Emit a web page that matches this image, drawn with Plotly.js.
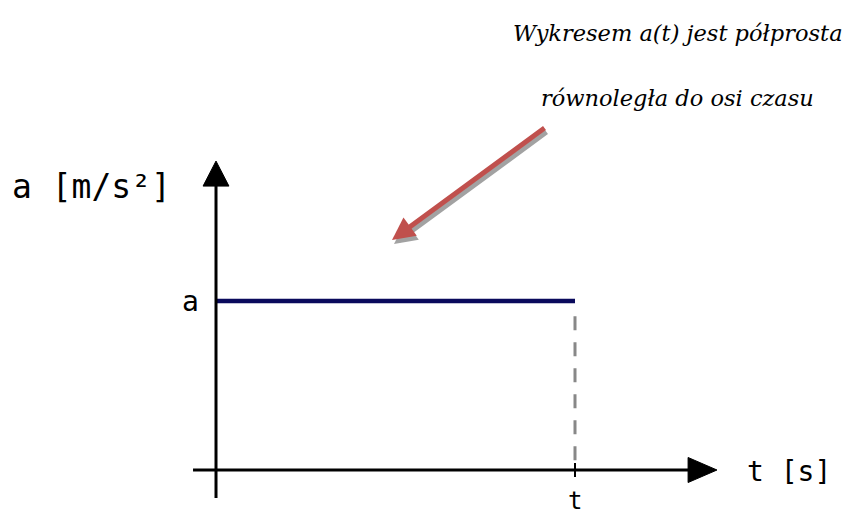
<!DOCTYPE html>
<html>
<head>
<meta charset="utf-8">
<script src="https://cdn.plot.ly/plotly-3.0.1.min.js"></script>
<style>html,body{margin:0;padding:0;background:#fff;}#chart{width:867px;height:516px;}</style>
</head>
<body>
<div id="chart"></div>
<script>
// Data
const tValues = [0, 1];          // time from 0 to t
const aValues = [1, 1];          // constant acceleration a
const xTickLabels = ['t'];
const yTickLabels = ['a'];
const xAxisTitle = 't [s]';
const yAxisTitle = 'a [m/s²]';
const noteLine1 = 'Wykresem a(t) jest półprosta';
const noteLine2 = 'równoległa do osi czasu';

const tEnd = tValues[tValues.length - 1];
const aLevel = aValues[0];

const traces = [
  { x: [tEnd, tEnd], y: [aLevel - 0.09, 0], mode: 'lines',
    line: { color: '#888888', width: 3, dash: '14px,12px' }, hoverinfo: 'skip' },
  { x: tValues, y: aValues, mode: 'lines',
    line: { color: '#0a0a5c', width: 4.5 }, hoverinfo: 'skip' }
];

const mono = 'DejaVu Sans Mono';
const layout = {
  width: 867, height: 516,
  margin: { l: 0, r: 0, t: 0, b: 0 },
  paper_bgcolor: '#ffffff', plot_bgcolor: '#ffffff',
  showlegend: false,
  xaxis: { range: [-0.6017, 1.8134], visible: false, fixedrange: true },
  yaxis: { range: [-0.2722, 2.7811], visible: false, fixedrange: true },
  shapes: [
    // y axis
    { type: 'line', xref: 'x', yref: 'y', x0: 0, x1: 0, y0: -0.166, y1: 1.70, line: { color: '#000', width: 3 } },
    { type: 'path', xref: 'x', yref: 'y', path: 'M -0.036 1.680 L 0.036 1.680 L 0 1.828 Z', fillcolor: '#000', line: { color: '#000', width: 1 } },
    // x axis
    { type: 'line', xref: 'x', yref: 'y', x0: -0.064, x1: 1.32, y0: 0, y1: 0, line: { color: '#000', width: 3 } },
    { type: 'path', xref: 'x', yref: 'y', path: 'M 1.315 -0.074 L 1.315 0.074 L 1.3955 0 Z', fillcolor: '#000', line: { color: '#000', width: 1 } },
    // tick at t
    { type: 'line', xref: 'x', yref: 'y', x0: tEnd, x1: tEnd, y0: -0.041, y1: 0.041, line: { color: '#000', width: 2 } }
  ],
  annotations: [
    { x: -0.07, y: aLevel, xref: 'x', yref: 'y', text: yTickLabels[0], showarrow: false, xanchor: 'center', yanchor: 'middle',
      font: { family: mono, size: 28, color: '#000' } },
    { x: tEnd, y: 1 - 501 / 516, xref: 'x', yref: 'paper', text: xTickLabels[0], showarrow: false, xanchor: 'center', yanchor: 'middle',
      font: { family: mono, size: 24, color: '#000' } },
    { x: 1.4735, y: -0.01, xref: 'x', yref: 'y', text: xAxisTitle, showarrow: false, xanchor: 'left', yanchor: 'middle',
      font: { family: mono, size: 28, color: '#000' } },
    { x: 0.012, y: 1 - 186 / 516, xref: 'paper', yref: 'paper', text: yAxisTitle, showarrow: false, xanchor: 'left', yanchor: 'middle',
      font: { family: mono, size: 33, color: '#000' } },
    // arrow shadow
    { x: 394 / 867, y: 1 - 244 / 516, xref: 'paper', yref: 'paper', ax: 154, ay: -113, axref: 'pixel', ayref: 'pixel',
      showarrow: true, arrowhead: 2, arrowsize: 0.9, arrowwidth: 5, arrowcolor: 'rgba(140,140,140,0.8)', text: '' },
    // arrow
    { x: 392 / 867, y: 1 - 240 / 516, xref: 'paper', yref: 'paper', ax: 154, ay: -113, axref: 'pixel', ayref: 'pixel',
      showarrow: true, arrowhead: 2, arrowsize: 0.9, arrowwidth: 5, arrowcolor: '#c0504d', text: '' },
    { x: 845 / 867, y: 1 - 33 / 516, xref: 'paper', yref: 'paper', text: '<i>' + noteLine1 + '</i>', showarrow: false,
      xanchor: 'right', yanchor: 'middle', font: { family: 'DejaVu Serif', size: 22.5, color: '#000' } },
    { x: 816 / 867, y: 1 - 98 / 516, xref: 'paper', yref: 'paper', text: '<i>' + noteLine2 + '</i>', showarrow: false,
      xanchor: 'right', yanchor: 'middle', font: { family: 'DejaVu Serif', size: 22.5, color: '#000' } }
  ]
};

Plotly.newPlot('chart', traces, layout, { staticPlot: true, displayModeBar: false });
</script>
</body>
</html>
